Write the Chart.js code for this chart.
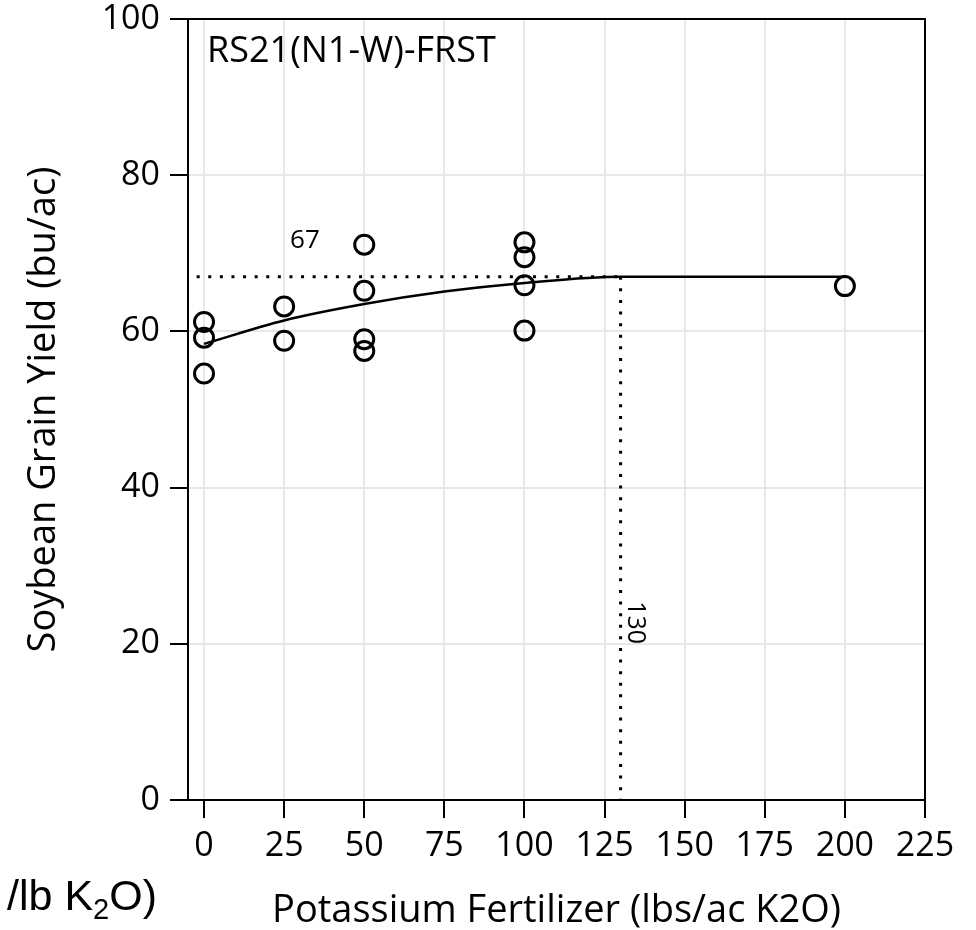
<!DOCTYPE html>
<html>
<head>
<meta charset="utf-8">
<script src="https://cdn.jsdelivr.net/npm/chart.js@4.4.1/dist/chart.umd.min.js"></script>
<style>
  html, body { margin: 0; padding: 0; background: #fff; }
  #wrap { width: 976px; height: 930px; }
</style>
</head>
<body>
<div id="wrap"><canvas id="chart" width="976" height="930"></canvas></div>
<script>
// observed yields
const obsX = [0, 0, 0, 25, 25, 50, 50, 50, 50, 100, 100, 100, 100, 200];
const obsY = [61.2, 59.2, 54.6, 63.2, 58.8, 71.1, 65.2, 59.0, 57.5, 71.4, 69.5, 65.9, 60.1, 65.8];

// fitted response curve
const fitX = [0, 25, 50, 75, 100, 130, 200];
const fitY = [58.4, 61.4, 63.5, 65.1, 66.2, 67, 67];

// plateau (yield) and join point (rate)
const plateauY = 67;
const joinX = 130;
const guideStartX = -2.3;

const xTicks = [0, 25, 50, 75, 100, 125, 150, 175, 200, 225];
const yTicks = [0, 20, 40, 60, 80, 100];

const panelLabel = 'RS21(N1-W)-FRST';
const xTitle = 'Potassium Fertilizer (lbs/ac K2O)';
const yTitle = 'Soybean Grain Yield (bu/ac)';

const FONT = "'Open Sans', 'Liberation Sans', sans-serif";
const ARIAL = "'Liberation Sans', Arial, sans-serif";

const textPlugin = {
    id: 'textPlugin',
    beforeDatasetsDraw(chart) {
        const ctx = chart.ctx;
        const a = chart.chartArea;
        ctx.save();
        ctx.strokeStyle = '#000';
        ctx.lineWidth = 2;
        ctx.beginPath();
        ctx.moveTo(a.left, a.top);
        ctx.lineTo(a.right, a.top);
        ctx.lineTo(a.right, a.bottom);
        ctx.stroke();
        ctx.restore();
    },
    afterDraw(chart) {
        const ctx = chart.ctx;
        const xs = chart.scales.x;
        const ys = chart.scales.y;
        const a = chart.chartArea;
        ctx.save();
        ctx.fillStyle = '#000';

        // panel label
        ctx.font = '36px ' + FONT;
        ctx.textAlign = 'left';
        ctx.textBaseline = 'middle';
        ctx.fillText(panelLabel, a.left + 19, a.top + 33);

        // plateau value
        ctx.font = '26px ' + FONT;
        ctx.textAlign = 'center';
        ctx.fillText(String(plateauY), xs.getPixelForValue(31.5), ys.getPixelForValue(71.6));

        // join point, rotated
        ctx.save();
        ctx.font = '25px ' + FONT;
        ctx.translate(xs.getPixelForValue(134.5), ys.getPixelForValue(22.7));
        ctx.rotate(Math.PI / 2);
        ctx.fillText(String(joinX), 0, 0);
        ctx.restore();

        // clipped title from the neighbouring panel
        ctx.textAlign = 'left';
        ctx.textBaseline = 'alphabetic';
        ctx.font = '43px ' + ARIAL;
        const part1 = '/lb K';
        const part3 = 'O)';
        const w1 = ctx.measureText(part1).width;
        const w3 = ctx.measureText(part3).width;
        ctx.font = '29px ' + ARIAL;
        const w2 = ctx.measureText('2').width;
        const right = 157;
        const base = 910;
        const x0 = right - w1 - w2 - w3;
        ctx.font = '43px ' + ARIAL;
        ctx.fillText(part1, x0, base);
        ctx.font = '29px ' + ARIAL;
        ctx.fillText('2', x0 + w1, base + 9);
        ctx.font = '43px ' + ARIAL;
        ctx.fillText(part3, x0 + w1 + w2, base);
        ctx.restore();
    }
};

const ctx = document.getElementById('chart').getContext('2d');
new Chart(ctx, {
    type: 'scatter',
    data: {
        datasets: [
            {
                label: 'guide-h',
                type: 'line',
                data: [{ x: guideStartX, y: plateauY }, { x: joinX, y: plateauY }],
                borderColor: '#000',
                borderWidth: 3,
                borderDash: [3, 8.6],
                pointRadius: 0,
                fill: false
            },
            {
                label: 'guide-v',
                type: 'line',
                data: [{ x: joinX, y: plateauY }, { x: joinX, y: 0 }],
                borderColor: '#000',
                borderWidth: 3,
                borderDash: [3, 8.6],
                pointRadius: 0,
                fill: false
            },
            {
                label: 'fit',
                type: 'line',
                data: fitX.map((x, i) => ({ x: x, y: fitY[i] })),
                borderColor: '#000',
                borderWidth: 2.5,
                cubicInterpolationMode: 'monotone',
                pointRadius: 0,
                fill: false
            },
            {
                label: 'observed',
                data: obsX.map((x, i) => ({ x: x, y: obsY[i] })),
                borderColor: '#000',
                backgroundColor: 'rgba(0,0,0,0)',
                borderWidth: 3,
                pointRadius: 9.5,
                showLine: false
            }
        ]
    },
    options: {
        responsive: false,
        animation: false,
        layout: { padding: { top: 19, right: 51, left: 0, bottom: 0 } },
        plugins: {
            legend: { display: false },
            tooltip: { enabled: false }
        },
        scales: {
            x: {
                type: 'linear',
                min: -5,
                max: 225,
                afterBuildTicks: s => { s.ticks = xTicks.map(v => ({ value: v })); },
                afterFit: s => { s.height = 130; s.paddingLeft = 0; s.paddingRight = 0; },
                grid: { color: '#e8e8e8', lineWidth: 2, tickColor: '#000', tickLength: 18, tickWidth: 2 },
                border: { color: '#000', width: 2 },
                ticks: { color: '#000', font: { family: FONT, size: 34 }, padding: 8, maxRotation: 0 },
                title: { display: true, text: xTitle, color: '#000', font: { family: FONT, size: 38, lineHeight: 1 }, padding: { top: 0, bottom: 0 } }
            },
            y: {
                type: 'linear',
                min: 0,
                max: 100,
                afterBuildTicks: s => { s.ticks = yTicks.map(v => ({ value: v })); },
                afterFit: s => { s.width = 188; s.paddingTop = 0; s.paddingBottom = 0; },
                grid: { color: '#e8e8e8', lineWidth: 2, tickColor: '#000', tickLength: 18, tickWidth: 2 },
                border: { color: '#000', width: 2 },
                ticks: { color: '#000', font: { family: FONT, size: 34 }, padding: 10 },
                title: { display: true, text: yTitle, color: '#000', font: { family: FONT, size: 38, lineHeight: 1 }, padding: { top: 25, bottom: 0 } }
            }
        }
    },
    plugins: [textPlugin]
});
</script>
</body>
</html>
